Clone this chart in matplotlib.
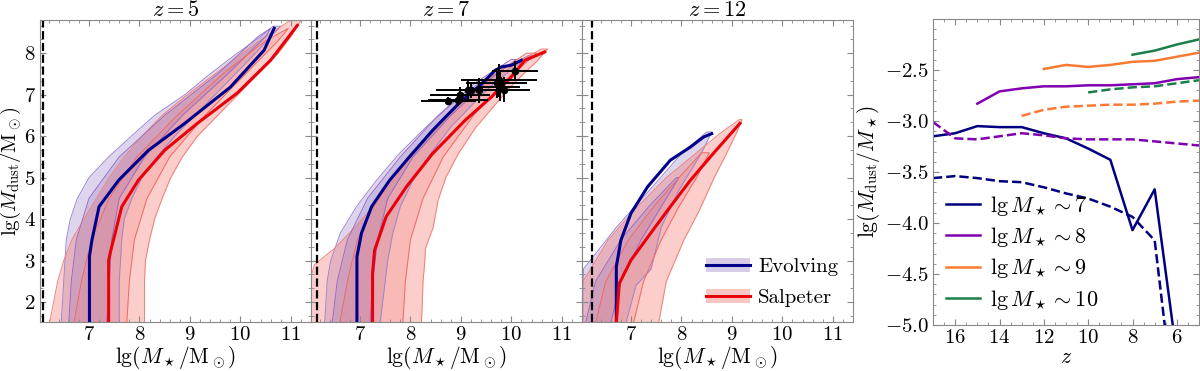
import matplotlib
matplotlib.use("Agg")
import matplotlib.pyplot as plt
from matplotlib.ticker import AutoMinorLocator, MultipleLocator
from matplotlib.patches import Patch
from matplotlib.lines import Line2D

plt.rcParams['font.family'] = 'serif'
plt.rcParams['font.serif'] = ['cmr10', 'DejaVu Serif']
plt.rcParams['mathtext.fontset'] = 'cm'
plt.rcParams['axes.formatter.use_mathtext'] = True

redshifts = [5, 7, 12]
mass_limit = [6.08, 6.15, 6.23]

# median relations (lg M*, lg Mdust)
evo_med_x = {
    5: [7.01, 7.01, 7.06, 7.2, 7.59, 8.18, 8.9, 9.8, 10.47, 10.67],
    7: [6.94, 6.94, 7.03, 7.23, 7.59, 7.98, 8.44, 8.96, 9.42, 9.68, 9.81, 10.0, 10.2],
    12: [6.71, 6.71, 6.8, 7.0, 7.33, 7.78, 8.18, 8.44, 8.6],
}
evo_med_y = {
    5: [1.5, 3.1, 3.5, 4.3, 4.94, 5.66, 6.31, 7.18, 8.07, 8.6],
    7: [1.5, 3.09, 3.66, 4.3, 4.94, 5.5, 6.14, 6.79, 7.27, 7.59, 7.67, 7.71, 7.83],
    12: [1.5, 2.85, 3.49, 4.14, 4.78, 5.42, 5.74, 5.98, 6.06],
}
salp_med_x = {
    5: [7.39, 7.39, 7.42, 7.65, 7.98, 8.5, 9.15, 9.94, 10.6, 11.13],
    7: [7.25, 7.25, 7.29, 7.52, 7.92, 8.44, 9.09, 9.61, 10.0, 10.27, 10.66],
    12: [6.71, 6.77, 7.0, 7.39, 7.78, 8.18, 8.63, 9.16],
}
salp_med_y = {
    5: [1.5, 3.0, 3.18, 4.3, 4.94, 5.66, 6.31, 7.04, 7.83, 8.67],
    7: [1.5, 2.69, 3.25, 4.06, 4.78, 5.58, 6.39, 6.95, 7.43, 7.83, 8.03],
    12: [1.5, 2.45, 3.01, 3.66, 4.3, 4.94, 5.58, 6.31],
}

# outer / inner contour envelopes: y grid, left and right edge in lg M*
evo_out = {
    5: ([1.5, 2.5, 3.5, 4.0, 4.5, 5.0, 5.5, 6.0, 6.5, 7.0, 7.5, 8.0, 8.4, 8.65],
        [6.45, 6.5, 6.55, 6.63, 6.77, 7.0, 7.39, 7.84, 8.3, 8.9, 9.4, 9.94, 10.4, 10.65],
        [7.6, 7.6, 7.65, 7.7, 7.85, 8.05, 8.35, 8.7, 9.1, 9.5, 9.9, 10.3, 10.6, 10.8]),
    7: ([1.5, 2.5, 3.0, 3.66, 4.3, 4.94, 5.58, 6.22, 6.79, 7.27, 7.7, 7.95],
        [6.3, 6.35, 6.42, 6.61, 6.93, 7.33, 7.78, 8.31, 8.84, 9.35, 9.95, 10.35],
        [7.4, 7.5, 7.55, 7.65, 7.8, 8.05, 8.4, 8.8, 9.25, 9.65, 10.1, 10.4]),
    12: ([1.5, 2.4, 2.8, 3.8, 4.7, 5.3, 5.6, 6.1],
         [6.05, 6.05, 6.06, 6.71, 7.37, 7.8, 8.02, 8.5],
         [6.9, 7.1, 7.4, 7.6, 7.95, 8.25, 8.4, 8.6]),
}
salp_out = {
    5: ([1.5, 2.5, 3.0, 3.5, 4.0, 4.5, 5.0, 5.5, 6.0, 6.5, 7.0, 7.5, 8.0, 8.4, 8.8],
        [6.22, 6.38, 6.5, 6.66, 6.9, 7.15, 7.4, 7.7, 8.05, 8.45, 8.95, 9.5, 10.05, 10.5, 11.0],
        [8.1, 8.1, 8.12, 8.2, 8.3, 8.45, 8.62, 8.85, 9.15, 9.55, 9.95, 10.35, 10.75, 11.0, 11.2]),
    7: ([1.5, 2.5, 2.9, 3.3, 3.8, 4.46, 5.0, 5.58, 6.22, 6.79, 7.3, 7.8, 8.1],
        [6.0, 6.0, 6.1, 6.5, 6.9, 7.37, 7.7, 8.05, 8.5, 9.0, 9.55, 10.15, 10.6],
        [8.22, 8.25, 8.28, 8.3, 8.45, 8.55, 8.7, 8.95, 9.3, 9.7, 10.07, 10.5, 10.72]),
    12: ([1.5, 2.5, 3.5, 4.2, 5.0, 5.6, 6.1, 6.4],
         [6.0, 6.05, 6.55, 7.05, 7.7, 8.3, 8.8, 9.15],
         [7.55, 7.7, 8.05, 8.35, 8.65, 8.9, 9.1, 9.2]),
}
evo_in = {
    5: ([1.5, 2.5, 3.5, 4.5, 5.5, 6.5, 7.5, 8.4, 8.6],
        [6.6, 6.65, 6.75, 7.0, 7.6, 8.5, 9.55, 10.35, 10.6],
        [7.35, 7.4, 7.45, 7.6, 8.1, 8.85, 9.75, 10.5, 10.6]),
    7: ([1.5, 2.5, 3.5, 4.5, 5.5, 6.5, 7.3, 7.85],
        [6.45, 6.55, 6.75, 7.15, 7.8, 8.55, 9.3, 10.0],
        [7.2, 7.25, 7.35, 7.55, 8.05, 8.8, 9.5, 10.1]),
    12: ([1.5, 2.5, 3.5, 4.3, 5.0],
         [6.1, 6.3, 6.8, 7.35, 7.9],
         [6.6, 6.8, 7.2, 7.6, 7.95]),
}
salp_in = {
    5: ([1.5, 2.5, 3.5, 4.5, 5.5, 6.5, 7.5, 8.3, 8.6],
        [6.7, 6.85, 7.05, 7.4, 7.95, 8.75, 9.65, 10.5, 10.95],
        [7.75, 7.8, 7.9, 8.15, 8.6, 9.3, 10.1, 10.75, 10.95]),
    7: ([1.5, 2.5, 3.5, 4.5, 5.5, 6.5, 7.3, 8.0],
        [6.6, 6.75, 6.95, 7.35, 7.95, 8.7, 9.45, 10.3],
        [7.85, 7.9, 8.0, 8.25, 8.65, 9.25, 9.85, 10.5]),
    12: ([1.5, 2.5, 3.5, 4.3, 5.0, 5.6],
         [6.3, 6.5, 6.95, 7.45, 7.95, 8.4],
         [7.05, 7.25, 7.6, 7.95, 8.3, 8.55]),
}

# observed galaxies at z~7
obs_x = [8.75, 8.94, 8.98, 9.14, 9.21, 9.35, 9.71, 9.75, 9.78, 9.86, 10.07]
obs_y = [6.84, 6.88, 6.99, 7.11, 7.11, 7.11, 7.27, 7.35, 7.19, 7.12, 7.57]
obs_xerr = [0.55, 0.6, 0.6, 0.5, 0.7, 0.4, 0.6, 0.75, 0.4, 0.5, 0.45]
obs_yerr = [0.1, 0.15, 0.2, 0.25, 0.2, 0.3, 0.35, 0.4, 0.35, 0.3, 0.25]

# right panel: dust-to-stellar ratio vs z
z_grid = [17, 16, 15, 14, 13, 12, 11, 10, 9, 8, 7, 6, 5]
ratio_evo = {
    7: [-3.15, -3.12, -3.05, -3.06, -3.06, -3.12, -3.17, -3.27, -3.38, -4.07, -3.67, -5.3, None],
    8: [None, None, -2.83, -2.71, -2.68, -2.66, -2.66, -2.65, -2.65, -2.64, -2.63, -2.59, -2.57],
    9: [None, None, None, None, None, -2.49, -2.45, -2.47, -2.45, -2.42, -2.41, -2.37, -2.33],
    10: [None, None, None, None, None, None, None, None, None, -2.35, -2.31, -2.25, -2.2],
}
ratio_salp = {
    7: [-3.56, -3.54, -3.56, -3.59, -3.6, -3.65, -3.71, -3.76, -3.84, -3.94, -4.17, -6.0, None],
    8: [-3.01, -3.17, -3.18, -3.15, -3.12, -3.14, -3.17, -3.18, -3.18, -3.18, -3.2, -3.22, -3.24],
    9: [None, None, None, None, -2.95, -2.89, -2.86, -2.85, -2.84, -2.84, -2.83, -2.81, -2.8],
    10: [None, None, None, None, None, None, None, -2.72, -2.69, -2.67, -2.66, -2.63, -2.6],
}
mass_bins = [7, 8, 9, 10]
bin_colors = {7: '#000080', 8: '#8000b0', 9: '#f97a32', 10: '#1b7f4a'}

evo_line = '#00008b'
salp_line = '#e8000b'
evo_fill = '#7b5ab8'
salp_fill = '#f4726a'

fig = plt.figure(figsize=(12, 3.71), dpi=100)
spine_col = '#888888'


def style_axes(ax):
    for s in ax.spines.values():
        s.set_color(spine_col)
    ax.tick_params(which='both', direction='in', top=True, right=True,
                   color=spine_col, labelsize=15, pad=3)
    ax.tick_params(which='major', length=4)
    ax.tick_params(which='minor', length=2)


def draw_env(ax, env, color, alpha, edge):
    yy, xl, xr = env
    ax.fill_betweenx(yy, xl, xr, color=color, alpha=alpha, lw=0)
    ax.plot(xl + xr[::-1] + [xl[0]], yy + yy[::-1] + [yy[0]], color=edge, lw=0.7)


panel_w = 271 / 1200
for i, z in enumerate(redshifts):
    ax = fig.add_axes([(40 + 271 * i) / 1200, 1 - 322 / 371, panel_w, 302 / 371])
    draw_env(ax, evo_out[z], evo_fill, 0.25, '#9d86cf')
    draw_env(ax, salp_out[z], salp_fill, 0.35, '#f08078')
    draw_env(ax, evo_in[z], evo_fill, 0.2, '#9a6cc0')
    draw_env(ax, salp_in[z], salp_fill, 0.2, '#ee6a62')
    ax.plot(evo_med_x[z], evo_med_y[z], color=evo_line, lw=2.2)
    ax.plot(salp_med_x[z], salp_med_y[z], color=salp_line, lw=2.2)
    ax.axvline(mass_limit[i], color='k', ls='--', lw=1.6)
    if z == 7:
        ax.errorbar(obs_x, obs_y, xerr=obs_xerr, yerr=obs_yerr, fmt='o', color='k',
                    ms=4.5, elinewidth=1.4, capsize=0)
    ax.set_xlim(6.03, 11.4)
    ax.set_ylim(1.52, 8.8)
    ax.xaxis.set_major_locator(MultipleLocator(1))
    ax.xaxis.set_minor_locator(MultipleLocator(0.2))
    ax.yaxis.set_major_locator(MultipleLocator(1))
    ax.yaxis.set_minor_locator(AutoMinorLocator(3))
    ax.set_xticks([7, 8, 9, 10, 11])
    style_axes(ax)
    ax.set_title(r'$z = %d$' % z, fontsize=16, pad=2)
    ax.set_xlabel(r'$\lg(M_\star/\mathrm{M}_\odot)$', fontsize=15.5, labelpad=0)
    if i == 0:
        ax.set_ylabel(r'$\lg(M_\mathrm{dust}/\mathrm{M}_\odot)$', fontsize=15)
        ax.yaxis.set_label_coords(-0.062, 0.5)
    else:
        ax.tick_params(labelleft=False)
    if z == 12:
        h1 = (Patch(color=evo_fill, alpha=0.3, lw=0), Line2D([], [], color=evo_line, lw=2.2))
        h2 = (Patch(color=salp_fill, alpha=0.4, lw=0), Line2D([], [], color=salp_line, lw=2.2))
        ax.legend([h1, h2], ['Evolving', 'Salpeter'], loc='lower right', frameon=False,
                  fontsize=15, handlelength=2.1, handletextpad=0.4,
                  borderaxespad=0.3, labelspacing=0.6)

ax = fig.add_axes([933 / 1200, 1 - 325 / 371, 266 / 1200, 306 / 371])
for m in mass_bins:
    ax.plot(z_grid, [v if v is not None else float('nan') for v in ratio_evo[m]],
            color=bin_colors[m], lw=1.8, label=r'$\lg M_\star \sim %d$' % m)
    ax.plot(z_grid, [v if v is not None else float('nan') for v in ratio_salp[m]],
            color=bin_colors[m], lw=1.8, ls='--')
ax.set_xlim(17, 5)
ax.set_ylim(-5.0, -2.0)
ax.xaxis.set_major_locator(MultipleLocator(2))
ax.xaxis.set_minor_locator(MultipleLocator(0.5))
ax.yaxis.set_major_locator(MultipleLocator(0.5))
ax.yaxis.set_minor_locator(MultipleLocator(0.1))
ax.set_yticks([-5.0, -4.5, -4.0, -3.5, -3.0, -2.5])
ax.yaxis.set_major_formatter(plt.FuncFormatter(lambda v, p: r'$%.1f$' % v))
style_axes(ax)
ax.set_xlabel(r'$z$', fontsize=15.5, labelpad=0)
ax.set_ylabel(r'$\lg(M_\mathrm{dust}/M_\star)$', fontsize=15.5, labelpad=2)
ax.legend(loc='lower left', frameon=False, fontsize=16, handlelength=1.5,
          handletextpad=0.45, borderaxespad=0.2, labelspacing=0.35)

fig.savefig('out.png', dpi=100)
